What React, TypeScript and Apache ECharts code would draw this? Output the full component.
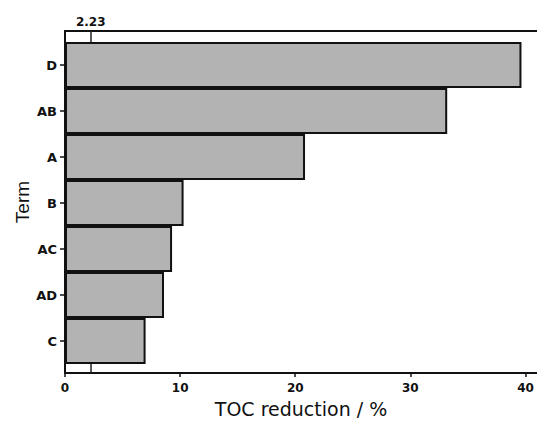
import React, { useEffect, useRef } from "react";
import * as echarts from "echarts";

const terms = ["D", "AB", "A", "B", "AC", "AD", "C"];
const effects = [39.65, 33.2, 20.85, 10.3, 9.3, 8.6, 7.0];
const refValue = 2.23;
const xTicks = [0, 10, 20, 30, 40];

export default function App() {
  const ref = useRef<HTMLDivElement>(null);
  useEffect(() => {
    if (!ref.current) return;
    const chart = echarts.init(ref.current, null, { renderer: "svg" });
    const axisColor = "#111";
    chart.setOption({
      animation: false,
      backgroundColor: "#fff",
      grid: [
        { left: 65, right: 0, top: 31, bottom: 46 },
        { left: 65, right: 0, top: 42, bottom: 59 },
      ],
      xAxis: [
        {
          type: "value",
          gridIndex: 0,
          min: 0,
          max: 41,
          interval: 10,
          position: "bottom",
          name: "TOC reduction / %",
          nameLocation: "middle",
          nameGap: 23,
          nameTextStyle: { fontFamily: "DejaVu Sans", fontSize: 19, color: "#111" },
          axisLine: { show: true, lineStyle: { color: axisColor, width: 2 } },
          axisTick: {
            show: true,
            length: 4,
            customValues: xTicks,
            lineStyle: { color: axisColor, width: 1.5 },
          },
          axisLabel: {
            fontFamily: "DejaVu Sans",
            fontWeight: "bold",
            fontSize: 12,
            color: "#111",
            margin: 9,
            customValues: xTicks,
          },
          splitLine: { show: false },
        },
        {
          type: "value",
          gridIndex: 0,
          min: 0,
          max: 41,
          position: "top",
          axisLine: { show: true, lineStyle: { color: axisColor, width: 2 } },
          axisTick: { show: false },
          axisLabel: { show: false },
          splitLine: { show: false },
        },
        {
          type: "value",
          gridIndex: 1,
          min: 0,
          max: 41,
          show: false,
        },
      ],
      yAxis: [
        {
          type: "value",
          gridIndex: 0,
          min: 0,
          max: 1,
          axisLine: { show: true, lineStyle: { color: axisColor, width: 2 } },
          axisTick: { show: false },
          axisLabel: { show: false },
          splitLine: { show: false },
          name: "Term",
          nameLocation: "middle",
          nameGap: 33,
          nameRotate: 90,
          nameTextStyle: { fontFamily: "Liberation Sans", fontSize: 19, color: "#111" },
        },
        {
          type: "category",
          gridIndex: 1,
          data: terms,
          inverse: true,
          axisLine: { show: false },
          axisTick: { show: true, alignWithLabel: true, length: 5, lineStyle: { color: axisColor, width: 1.5 } },
          axisLabel: {
            fontFamily: "DejaVu Sans",
            fontWeight: "bold",
            fontSize: 13,
            color: "#111",
            margin: 8,
          },
        },
      ],
      series: [
        {
          type: "line",
          xAxisIndex: 0,
          yAxisIndex: 0,
          data: [],
          z: 1,
          markLine: {
            silent: true,
            z: 1,
            symbol: "none",
            lineStyle: { color: "#222", width: 1.5, type: "solid" },
            label: {
              show: true,
              position: "end",
              formatter: "2.23",
              fontFamily: "DejaVu Sans",
              fontWeight: "bold",
              fontSize: 12,
              color: "#111",
              distance: 3,
            },
            data: [{ xAxis: refValue }],
          },
        },
        {
          type: "bar",
          xAxisIndex: 2,
          yAxisIndex: 1,
          data: effects,
          barCategoryGap: "0%",
          z: 3,
          itemStyle: { color: "#b3b3b3", borderColor: "#111", borderWidth: 2 },
        },
      ],
    });
    return () => chart.dispose();
  }, []);
  return (
    <div
      ref={ref}
      style={{ position: "fixed", left: 0, top: 0, width: 537, height: 423, background: "#fff" }}
    />
  );
}
